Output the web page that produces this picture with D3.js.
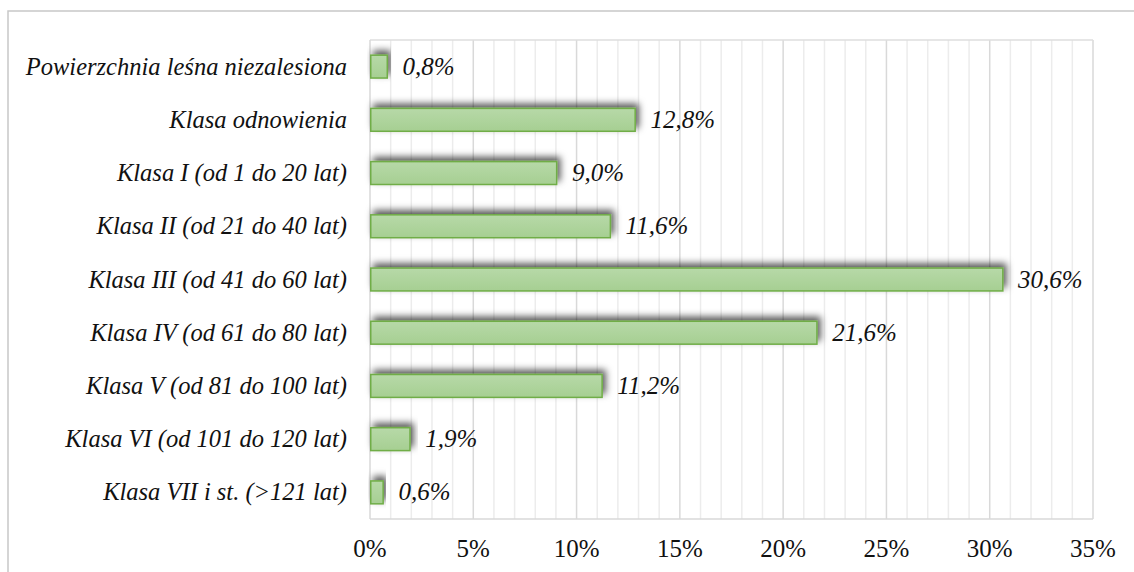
<!DOCTYPE html>
<meta charset="utf-8">
<style>
  body { margin: 0; background: #fff; }
  svg text { font-family: "Liberation Serif", "Times New Roman", serif; fill: #111; }
  .kat { font-style: italic; font-size: 24.5px; }
  .wart { font-style: italic; font-size: 25px; }
  .tick-lab { font-size: 25px; }
</style>
<svg width="1134" height="572"></svg>
<script src="https://d3js.org/d3.v7.min.js"></script>
<script>

// dane: struktura klas wieku
var kategorie = [
  "Powierzchnia leśna niezalesiona",
  "Klasa odnowienia",
  "Klasa I (od 1 do 20 lat)",
  "Klasa II (od 21 do 40 lat)",
  "Klasa III (od 41 do 60 lat)",
  "Klasa IV (od 61 do 80 lat)",
  "Klasa V (od 81 do 100 lat)",
  "Klasa VI (od 101 do 120 lat)",
  "Klasa VII i st. (>121 lat)"
];
var wartosci = [0.8, 12.8, 9.0, 11.6, 30.6, 21.6, 11.2, 1.9, 0.6];
var ticki = [0, 5, 10, 15, 20, 25, 30, 35];

var svg = d3.select("svg");
var margin = {top: 40, right: 41, bottom: 53, left: 370},
    szer = 1134 - margin.left - margin.right,
    wys = 572 - margin.top - margin.bottom;

// ramka całego wykresu (wychodzi poza kadr)
svg.append("rect")
    .attr("x", 8).attr("y", 11)
    .attr("width", 1200).attr("height", 700)
    .attr("fill", "none")
    .attr("stroke", "#c8c8c8")
    .attr("stroke-width", 1.5);

var defs = svg.append("defs");
var grad = defs.append("linearGradient")
    .attr("id", "ziel").attr("x1", 0).attr("y1", 0).attr("x2", 0).attr("y2", 1);
grad.append("stop").attr("offset", "0%").attr("stop-color", "#b7d9a8");
grad.append("stop").attr("offset", "100%").attr("stop-color", "#a6cf92");

var cien = defs.append("filter").attr("id", "cien")
    .attr("x", "-20%").attr("y", "-100%").attr("width", "140%").attr("height", "300%");
cien.append("feDropShadow")
    .attr("dx", 3).attr("dy", -4)
    .attr("stdDeviation", 3.5)
    .attr("flood-color", "#000")
    .attr("flood-opacity", 0.65);

var g = svg.append("g").attr("transform", "translate(" + margin.left + "," + margin.top + ")");

var x = d3.scaleLinear().domain([0, 35]).range([0, szer]);
var y = d3.scaleBand().domain(kategorie).range([0, wys]).paddingInner(0.57).paddingOuter(0.285);

// siatka pomocnicza co 1%
g.append("g").selectAll("line")
    .data(d3.range(1, 35).filter(d => d % 5 !== 0))
    .join("line")
    .attr("x1", d => x(d)).attr("x2", d => x(d))
    .attr("y1", 0).attr("y2", wys)
    .attr("stroke", "#ececec").attr("stroke-width", 1.5);

// siatka główna
g.append("g").selectAll("line")
    .data(ticki.slice(1))
    .join("line")
    .attr("x1", d => x(d)).attr("x2", d => x(d))
    .attr("y1", 0).attr("y2", wys)
    .attr("stroke", "#d9d9d9").attr("stroke-width", 1.5);

// obramowanie obszaru wykresu
g.append("line").attr("x1", 0).attr("x2", szer).attr("y1", 0).attr("y2", 0)
    .attr("stroke", "#dedede").attr("stroke-width", 1.5);
g.append("line").attr("x1", 0).attr("x2", szer).attr("y1", wys).attr("y2", wys)
    .attr("stroke", "#d9d9d9").attr("stroke-width", 1.5);
g.append("line").attr("x1", 0).attr("x2", 0).attr("y1", 0).attr("y2", wys)
    .attr("stroke", "#d9d9d9").attr("stroke-width", 1.5);

// słupki
g.append("g").selectAll("rect")
    .data(wartosci)
    .join("rect")
    .attr("x", x(0) + 0.75)
    .attr("y", (d, i) => y(kategorie[i]))
    .attr("width", d => x(d) - x(0))
    .attr("height", y.bandwidth())
    .attr("fill", "url(#ziel)")
    .attr("stroke", "#70ad47")
    .attr("stroke-width", 1.5)
    .attr("filter", "url(#cien)");

// etykiety wartości
g.append("g").selectAll("text")
    .data(wartosci)
    .join("text")
    .attr("class", "wart")
    .attr("x", d => x(d) + 16)
    .attr("y", (d, i) => y(kategorie[i]) + y.bandwidth() / 2 + 8)
    .text(d => d.toFixed(1).replace(".", ",") + "%");

// etykiety kategorii
g.append("g").selectAll("text")
    .data(kategorie)
    .join("text")
    .attr("class", "kat")
    .attr("text-anchor", "end")
    .attr("x", -23)
    .attr("y", d => y(d) + y.bandwidth() / 2 + 8)
    .text(d => d);

// oś X
g.append("g").selectAll("text")
    .data(ticki)
    .join("text")
    .attr("class", "tick-lab")
    .attr("text-anchor", "middle")
    .attr("x", d => x(d))
    .attr("y", wys + 38)
    .text(d => d + "%");

</script>
